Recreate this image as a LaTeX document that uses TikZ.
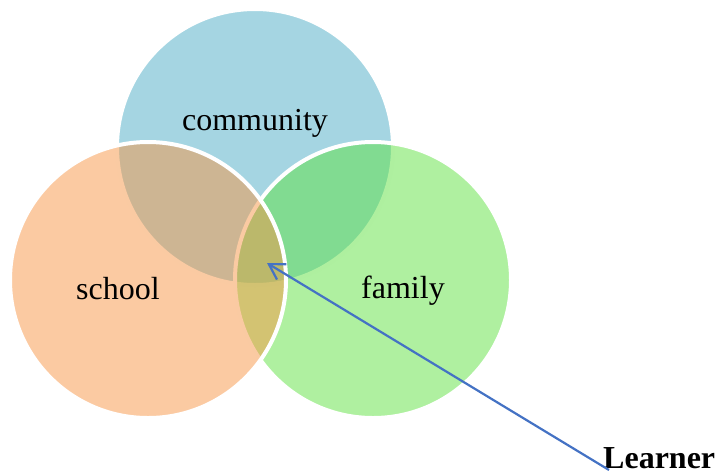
\documentclass[tikz,border=0pt]{standalone}
\usepackage{fontspec}
\setmainfont{Liberation Serif}
\definecolor{CommBlue}{RGB}{75,172,198}
\definecolor{SchoolOrange}{RGB}{247,150,70}
\definecolor{FamilyGreen}{RGB}{95,225,65}
\definecolor{ArrowBlue}{RGB}{68,114,196}
\usetikzlibrary{arrows.meta}

\begin{document}
\begin{tikzpicture}[x=1pt, y=-1pt, font=\fontsize{32}{38}\selectfont]
        \useasboundingbox (0,0) rectangle (717,475);

        \node[circle, minimum size=276pt, inner sep=0pt, fill=CommBlue, fill opacity=0.5, draw=white, line width=4pt] (comm) at (255,147) {};
        \node[circle, minimum size=276pt, inner sep=0pt, fill=FamilyGreen, fill opacity=0.5, draw=white, line width=4pt] (fam) at (373,280) {};
        \node[circle, minimum size=276pt, inner sep=0pt, fill=SchoolOrange, fill opacity=0.5, draw=white, line width=4pt] (schl) at (148,280) {};

        \node[anchor=base] (commtext) at (255,130) {community};
        \node[anchor=base] (schltext) at (118,299) {school};
        \node[anchor=base] (famtext) at (403,298) {family};
        \node[anchor=base west, inner sep=0pt, font=\fontsize{32}{38}\selectfont\bfseries] (learner) at (603,468) {Learner};

        \coordinate (core) at (267,263);

        \draw[-{Straight Barb[length=15pt, width=18pt]}, ArrowBlue, line width=2.2pt] ([xshift=6pt, yshift=-2pt]learner.base west) -- (core);
    \end{tikzpicture}
\end{document}
